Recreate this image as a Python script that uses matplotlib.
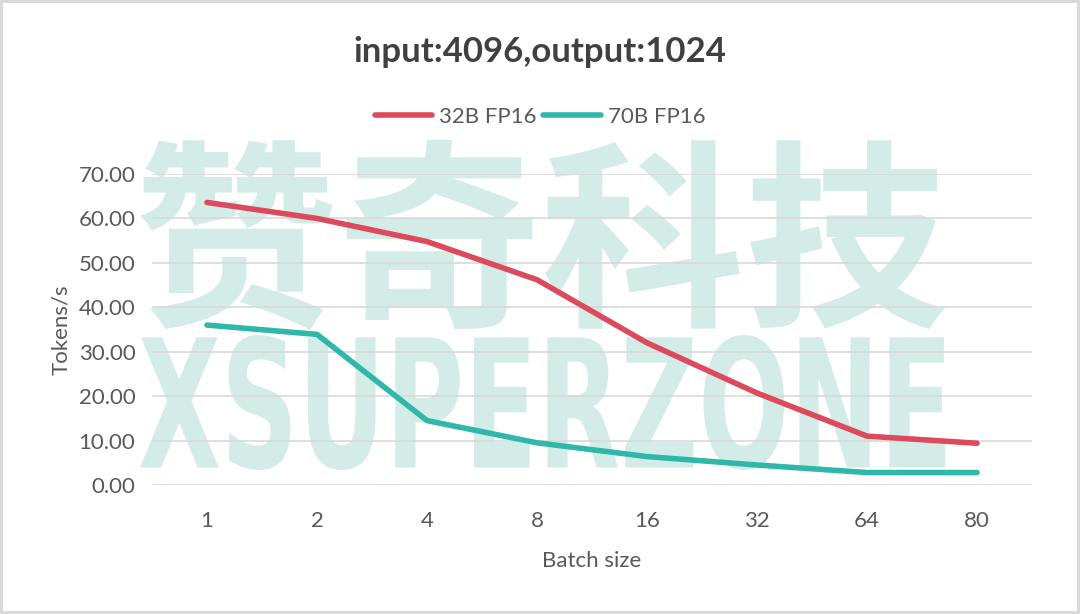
import matplotlib.pyplot as plt
from matplotlib.textpath import TextPath
from matplotlib.patches import PathPatch
from matplotlib.font_manager import FontProperties
from matplotlib.transforms import Affine2D

# data
batch_sizes = ["1", "2", "4", "8", "16", "32", "64", "80"]
tps_32b = [63.6, 60.0, 54.8, 46.2, 32.0, 20.7, 11.0, 9.4]
tps_70b = [36.0, 33.9, 14.5, 9.5, 6.4, 4.5, 2.8, 2.8]
y_ticks = [0, 10, 20, 30, 40, 50, 60, 70]

RED = "#dc4a5c"
TEAL = "#2fb8aa"
GREY = "#595959"
WM = "#d3ece8"

plt.rcParams['font.family'] = ['Lato', 'DejaVu Sans']

fig = plt.figure(figsize=(10.8, 6.14), dpi=100)
fig.patch.set_edgecolor("#d9d9d9")
fig.patch.set_linewidth(4)
ax = fig.add_axes([0.1407, 0.2101, 0.8149, 0.5065])


def watermark(text, family, weight, box):
    # stretch a text outline into a pixel box (x0, y0, x1, y1), y from bottom
    path = TextPath((0, 0), text, size=1, prop=FontProperties(family=family, weight=weight))
    ext = path.get_extents()
    x0, y0, x1, y1 = box
    tr = (Affine2D().translate(-ext.x0, -ext.y0)
          .scale((x1 - x0) / ext.width, (y1 - y0) / ext.height)
          .translate(x0, y0))
    fig.patches.append(PathPatch(path, transform=tr, facecolor=WM, edgecolor='none', zorder=-5))


watermark("赞奇科技", 'Noto Sans CJK SC', 'bold', (140, 614 - 330, 945, 614 - 140))
watermark("XSUPERZONE", 'DejaVu Sans', 'bold', (140, 614 - 470, 945, 614 - 335))
ax.set_facecolor("none")
ax.set_zorder(1)

x = range(len(batch_sizes))
ax.plot(x, tps_32b, color=RED, linewidth=4, label="32B FP16", solid_capstyle='round')
ax.plot(x, tps_70b, color=TEAL, linewidth=4, label="70B FP16", solid_capstyle='round')

ax.set_xlim(-0.5, len(batch_sizes) - 0.5)
ax.set_ylim(0, 70)
ax.set_yticks(y_ticks)
ax.set_yticklabels([f"{v:.2f}" for v in y_ticks])
ax.set_xticks(list(x))
ax.set_xticklabels(batch_sizes)
ax.grid(axis='y', color="#d9d9d9", linewidth=1.2)
ax.set_axisbelow(True)
for s in ax.spines.values():
    s.set_visible(False)
ax.tick_params(length=0, labelsize=16, labelcolor=GREY)
ax.tick_params(axis='x', pad=19)
ax.tick_params(axis='y', pad=12)

ax.set_xlabel("Batch size", fontsize=16, color=GREY, labelpad=14)
ax.set_ylabel("Tokens/s", fontsize=16, color=GREY, labelpad=5)

fig.text(0.5, 0.915, "input:4096,output:1024", ha='center', va='center',
         fontsize=25, fontweight='bold', color="#404040")
fig.legend(loc='center', bbox_to_anchor=(0.5, 0.81), ncol=2, frameon=False,
           fontsize=16, labelcolor=GREY, handlelength=2.6, columnspacing=0.3,
           handletextpad=0.3)

fig.savefig("out.png", dpi=100)
